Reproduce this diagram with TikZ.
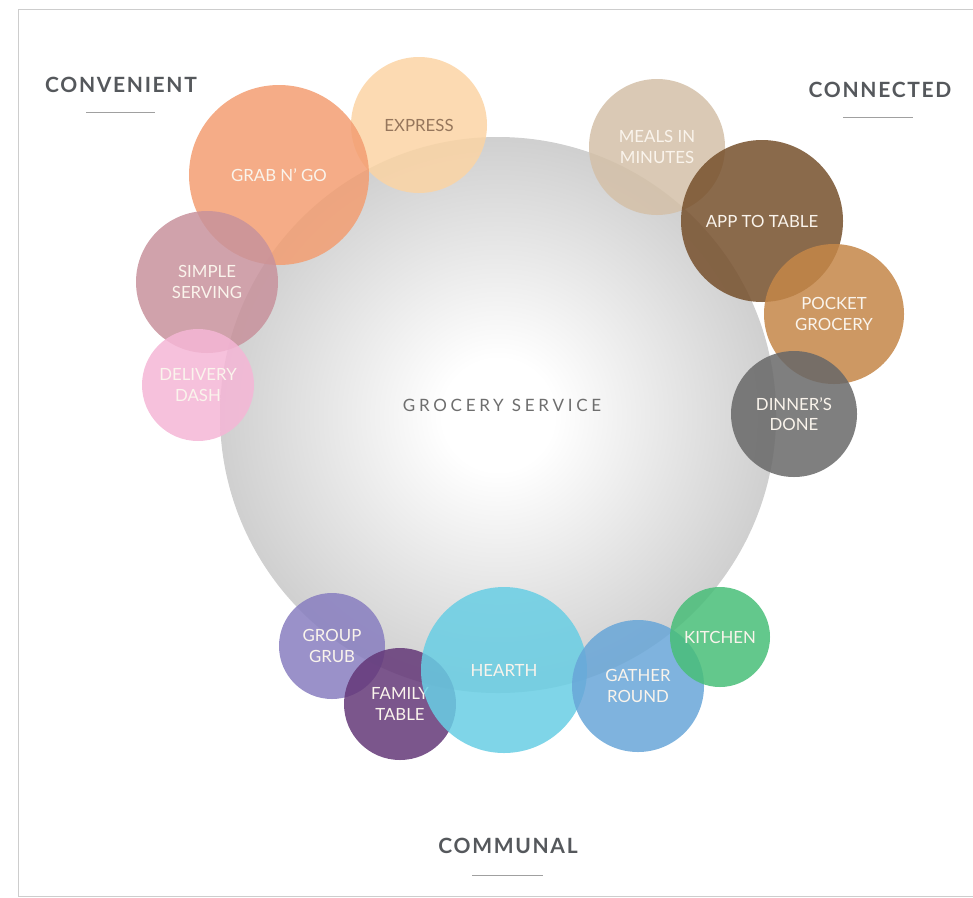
\documentclass[tikz,border=0pt]{standalone}
\usepackage{fontspec}
\setmainfont{Lato}
\newfontfamily\headfont[LetterSpace=8]{Lato}
\newfontfamily\centerfont[LetterSpace=22]{Lato}
\definecolor{framecol}{RGB}{205,205,205}
\definecolor{headcol}{RGB}{85,88,92}
\definecolor{rulecol}{RGB}{160,160,160}
\definecolor{ggray}{RGB}{198,198,198}
\definecolor{centertext}{RGB}{110,110,110}
\definecolor{bubtext}{RGB}{250,244,236}
\definecolor{exptext}{RGB}{150,118,92}
\definecolor{cExpress}{RGB}{251,212,164}
\definecolor{cGrab}{RGB}{243,158,114}
\definecolor{cSimple}{RGB}{200,146,156}
\definecolor{cDelivery}{RGB}{245,182,214}
\definecolor{cMeals}{RGB}{212,192,168}
\definecolor{cApp}{RGB}{118,80,44}
\definecolor{cPocket}{RGB}{196,134,72}
\definecolor{cDinner}{RGB}{104,104,104}
\definecolor{cGroup}{RGB}{136,126,192}
\definecolor{cFamily}{RGB}{100,56,120}
\definecolor{cHearth}{RGB}{104,206,228}
\definecolor{cGather}{RGB}{104,166,216}
\definecolor{cKitchen}{RGB}{72,190,120}
\pgfdeclareradialshading{bigglow}{\pgfpoint{0bp}{0bp}}{color(0bp)=(white); color(5bp)=(white); color(29bp)=(ggray); color(50bp)=(ggray)}
\tikzset{
  bub/.style={circle, inner sep=0pt, minimum size=#1, text=bubtext, fill opacity=0.85, text opacity=1,
    font=\fontsize{16.8}{20.5}\selectfont, align=center},
  heading/.style={anchor=base, text=headcol, font=\headfont\bfseries\fontsize{21}{25}\selectfont},
  rulerline/.style={draw=rulecol, line width=1pt},
  framestyle/.style={draw=framecol, line width=1pt}
}
\begin{document}
\begin{tikzpicture}[x=1pt,y=-1pt]
\useasboundingbox (0,0) rectangle (973,897);
% frame
\coordinate (f1) at (973,9);
\coordinate (f2) at (18,9);
\coordinate (f3) at (18,896);
\coordinate (f4) at (973,896);
\draw[framestyle] (f1) -- (f2) -- (f3) -- (f4);
% central circle
\node[circle, minimum size=556pt, inner sep=0pt, shading=bigglow] (core) at (498,415) {};
\node[text=centertext, font=\centerfont\fontsize{17}{20}\selectfont] (coretext) at (502,405) {GROCERY SERVICE};
% headings
\node[heading] (conv) at (121,92) {CONVENIENT};
\coordinate (c1) at (86,112); \coordinate (c2) at (155,112);
\draw[rulerline] (c1) -- (c2);
\node[heading] (conn) at (880,97) {CONNECTED};
\coordinate (n1) at (843,117); \coordinate (n2) at (913,117);
\draw[rulerline] (n1) -- (n2);
\node[heading] (comm) at (508,853) {COMMUNAL};
\coordinate (m1) at (472,875); \coordinate (m2) at (543,875);
\draw[rulerline] (m1) -- (m2);
% convenient bubbles
\node[bub=136pt, fill=cExpress, text=exptext] (express) at (419,125) {EXPRESS};
\node[bub=180pt, fill=cGrab] (grab) at (279,175) {GRAB N' GO};
\node[bub=142pt, fill=cSimple] (simple) at (207,282) {SIMPLE\\SERVING};
\node[bub=112pt, fill=cDelivery] (delivery) at (198,385) {DELIVERY\\DASH};
% connected bubbles
\node[bub=136pt, fill=cMeals] (meals) at (657,147) {MEALS IN\\MINUTES};
\node[bub=162pt, fill=cApp] (app) at (762,221) {APP TO TABLE};
\node[bub=140pt, fill=cPocket] (pocket) at (834,314) {POCKET\\GROCERY};
\node[bub=126pt, fill=cDinner] (dinner) at (794,414) {DINNER'S\\DONE};
% communal bubbles
\node[bub=106pt, fill=cGroup] (group) at (332,646) {GROUP\\GRUB};
\node[bub=112pt, fill=cFamily] (family) at (400,704) {FAMILY\\TABLE};
\node[bub=166pt, fill=cHearth] (hearth) at (504,670) {HEARTH};
\node[bub=132pt, fill=cGather] (gather) at (638,686) {GATHER\\ROUND};
\node[bub=100pt, fill=cKitchen] (kitchen) at (720,637) {KITCHEN};
\end{tikzpicture}
\end{document}
